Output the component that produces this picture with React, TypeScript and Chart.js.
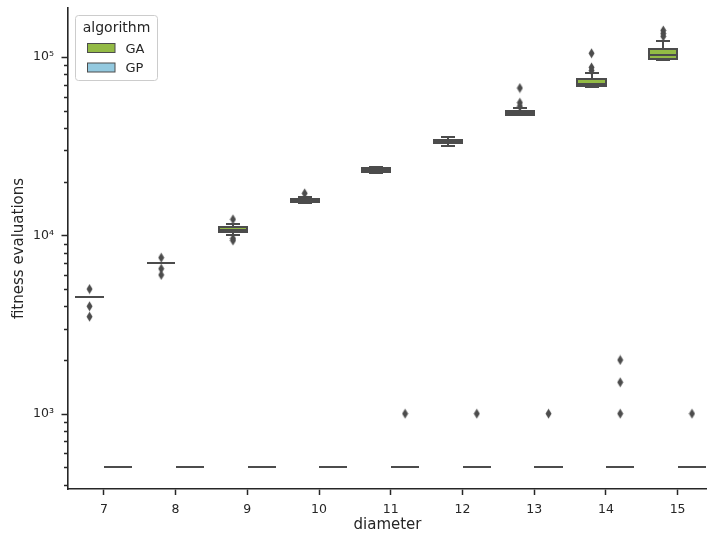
import React, { useEffect, useRef } from 'react';
import { Chart, registerables } from 'chart.js';

Chart.register(...registerables);

// ---------- data ----------
const diameters = [7, 8, 9, 10, 11, 12, 13, 14, 15];
const algorithms = ['GA', 'GP'];

// GA box statistics (fitness evaluations)
const gaLow = [4500, 7000, 10100, 15100, 22500, 31600, 47300, 67700, 96500];
const gaQ1 = [4500, 7000, 10400, 15400, 22800, 32900, 47300, 68900, 97200];
const gaMedian = [4500, 7000, 10750, 15750, 23300, 33500, 48300, 70600, 103000];
const gaQ3 = [4500, 7000, 11200, 16050, 23900, 34300, 50000, 75000, 111000];
const gaHigh = [4500, 7000, 11600, 16500, 24300, 35800, 51500, 81000, 123600];
const gaOutliers = [
  [5000, 4000, 3500],
  [7500, 6500, 6000],
  [12300, 9600, 9350],
  [17200],
  [],
  [],
  [67000, 55500, 53000],
  [105000, 87500, 84000],
  [141000, 135500, 130500],
];

// GP box statistics
const gpLow = [500, 500, 500, 500, 500, 500, 500, 500, 500];
const gpQ1 = [500, 500, 500, 500, 500, 500, 500, 500, 500];
const gpMedian = [500, 500, 500, 500, 500, 500, 500, 500, 500];
const gpQ3 = [500, 500, 500, 500, 500, 500, 500, 500, 500];
const gpHigh = [500, 500, 500, 500, 500, 500, 500, 500, 500];
const gpOutliers = [[], [], [], [], [1000], [1000], [1000], [1000, 1500, 2000], [1000]];

// y-axis ticks
const yMajorTicks = [1000, 10000, 100000];
const yMajorLabels = ['10³', '10⁴', '10⁵'];
const yMinorTicks = [
  400, 500, 600, 700, 800, 900,
  2000, 3000, 4000, 5000, 6000, 7000, 8000, 9000,
  20000, 30000, 40000, 50000, 60000, 70000, 80000, 90000,
];
const xTitle = 'diameter';
const yTitle = 'fitness evaluations';
const legendTitle = 'algorithm';

// ---------- styles ----------
const GA_FILL = '#93BA45';
const GP_FILL = '#93C9DF';
const LINE = '#4c4c4c';
const AXIS = '#262626';
const FONT = "'DejaVu Sans', sans-serif";
const BOX_W = 0.392;
const HUE_OFF = 0.2;

function makeDiamond(): HTMLCanvasElement {
  const c = document.createElement('canvas');
  c.width = 7;
  c.height = 11;
  const g = c.getContext('2d')!;
  g.fillStyle = LINE;
  g.beginPath();
  g.moveTo(3.5, 0.5);
  g.lineTo(6.5, 5.5);
  g.lineTo(3.5, 10.5);
  g.lineTo(0.5, 5.5);
  g.closePath();
  g.fill();
  return c;
}

const groups = [
  { name: algorithms[0], off: -HUE_OFF, fill: GA_FILL, lo: gaLow, q1: gaQ1, med: gaMedian, q3: gaQ3, hi: gaHigh },
  { name: algorithms[1], off: HUE_OFF, fill: GP_FILL, lo: gpLow, q1: gpQ1, med: gpMedian, q3: gpQ3, hi: gpHigh },
];

const boxPlugin = {
  id: 'boxes',
  beforeDatasetsDraw(chart: any) {
    const { ctx, chartArea, scales } = chart;
    const x = scales.x;
    const y = scales.y;
    const R = Math.round;
    ctx.save();
    ctx.beginPath();
    ctx.rect(chartArea.left, chartArea.top, chartArea.right - chartArea.left, chartArea.bottom - chartArea.top);
    ctx.clip();
    ctx.lineWidth = 2;
    ctx.strokeStyle = LINE;
    ctx.lineCap = 'butt';
    const line = (x1: number, y1: number, x2: number, y2: number) => {
      ctx.beginPath();
      ctx.moveTo(x1, y1);
      ctx.lineTo(x2, y2);
      ctx.stroke();
    };
    for (const g of groups) {
      diameters.forEach((d, i) => {
        const cx = d + g.off;
        const xl = R(x.getPixelForValue(cx - BOX_W / 2));
        const xr = R(x.getPixelForValue(cx + BOX_W / 2));
        const xc = R(x.getPixelForValue(cx));
        const cl = R(x.getPixelForValue(cx - BOX_W / 4));
        const cr = R(x.getPixelForValue(cx + BOX_W / 4));
        const yLo = R(y.getPixelForValue(g.lo[i]));
        const yQ1 = R(y.getPixelForValue(g.q1[i]));
        const yMed = R(y.getPixelForValue(g.med[i]));
        const yQ3 = R(y.getPixelForValue(g.q3[i]));
        const yHi = R(y.getPixelForValue(g.hi[i]));
        if (yQ1 > yQ3) {
          ctx.fillStyle = g.fill;
          ctx.fillRect(xl, yQ3, xr - xl, yQ1 - yQ3);
          ctx.strokeRect(xl, yQ3, xr - xl, yQ1 - yQ3);
        }
        if (yLo !== yQ1) line(xc, yQ1, xc, yLo);
        if (yHi !== yQ3) line(xc, yQ3, xc, yHi);
        line(cl, yLo, cr, yLo);
        line(cl, yHi, cr, yHi);
        line(xl, yMed, xr, yMed);
      });
    }
    ctx.restore();
  },
  afterDraw(chart: any) {
    const { ctx, chartArea, scales } = chart;
    const y = scales.y;
    ctx.save();
    // y tick marks (major longer than minor)
    ctx.strokeStyle = AXIS;
    ctx.lineWidth = 1.5;
    const left = chartArea.left;
    for (const v of yMajorTicks) {
      const py = Math.round(y.getPixelForValue(v)) + 0.5;
      ctx.beginPath();
      ctx.moveTo(left - 6.5, py);
      ctx.lineTo(left, py);
      ctx.stroke();
    }
    for (const v of yMinorTicks) {
      const py = Math.round(y.getPixelForValue(v)) + 0.5;
      ctx.beginPath();
      ctx.moveTo(left - 4, py);
      ctx.lineTo(left, py);
      ctx.stroke();
    }
    // legend
    const lx = 75.5, ly = 15.5, lw = 82, lh = 65, r = 3;
    ctx.beginPath();
    ctx.moveTo(lx + r, ly);
    ctx.lineTo(lx + lw - r, ly);
    ctx.quadraticCurveTo(lx + lw, ly, lx + lw, ly + r);
    ctx.lineTo(lx + lw, ly + lh - r);
    ctx.quadraticCurveTo(lx + lw, ly + lh, lx + lw - r, ly + lh);
    ctx.lineTo(lx + r, ly + lh);
    ctx.quadraticCurveTo(lx, ly + lh, lx, ly + lh - r);
    ctx.lineTo(lx, ly + r);
    ctx.quadraticCurveTo(lx, ly, lx + r, ly);
    ctx.closePath();
    ctx.fillStyle = 'rgba(255,255,255,0.8)';
    ctx.fill();
    ctx.strokeStyle = '#cccccc';
    ctx.lineWidth = 1;
    ctx.stroke();
    ctx.fillStyle = AXIS;
    ctx.font = `14px ${FONT}`;
    ctx.textAlign = 'center';
    ctx.textBaseline = 'alphabetic';
    ctx.fillText(legendTitle, lx + lw / 2, 32);
    ctx.font = `13px ${FONT}`;
    ctx.textAlign = 'left';
    groups.forEach((g, k) => {
      const top = 43.5 + k * 19.5;
      ctx.fillStyle = g.fill;
      ctx.fillRect(87.5, top, 27.5, 9);
      ctx.strokeStyle = LINE;
      ctx.lineWidth = 1;
      ctx.strokeRect(87.5, top, 27.5, 9);
      ctx.fillStyle = AXIS;
      ctx.fillText(g.name, 125.5, top + 9.2);
    });
    ctx.restore();
  },
};

export default function App() {
  const ref = useRef<HTMLCanvasElement | null>(null);
  useEffect(() => {
    if (!ref.current) return;
    const diamond = makeDiamond();
    const gaPts = diameters.flatMap((d, i) => gaOutliers[i].map((v) => ({ x: d - HUE_OFF, y: v })));
    const gpPts = diameters.flatMap((d, i) => gpOutliers[i].map((v) => ({ x: d + HUE_OFF, y: v })));
    const chart = new Chart(ref.current, {
      type: 'scatter',
      data: {
        datasets: [
          { label: algorithms[0], data: gaPts, pointStyle: diamond as any, backgroundColor: LINE, borderColor: LINE },
          { label: algorithms[1], data: gpPts, pointStyle: diamond as any, backgroundColor: LINE, borderColor: LINE },
        ],
      },
      options: {
        animation: false,
        responsive: false,
        devicePixelRatio: 1,
        layout: { autoPadding: false, padding: { top: 8, right: 0, left: 0, bottom: 0 } },
        plugins: { legend: { display: false }, tooltip: { enabled: false } },
        scales: {
          x: {
            type: 'linear',
            min: 6.5,
            max: 15.41,
            afterFit: (s: any) => {
              s.height = 45;
              s.paddingLeft = 0;
              s.paddingRight = 0;
            },
            afterBuildTicks: (s: any) => { s.ticks = diameters.map((v) => ({ value: v })); },
            grid: { display: true, drawOnChartArea: false, drawTicks: true, tickLength: 6, tickColor: AXIS, tickWidth: 1.5, color: AXIS },
            border: { display: true, color: AXIS, width: 1.6 },
            ticks: { color: AXIS, font: { family: FONT, size: 12.5 }, padding: 7, autoSkip: false, maxRotation: 0, callback: (v: any) => String(v) },
            title: { display: true, text: xTitle, color: AXIS, font: { family: FONT, size: 15 }, padding: { top: 0, bottom: 0 } },
          },
          y: {
            type: 'logarithmic',
            min: 378,
            max: 188400,
            afterFit: (s: any) => {
              s.width = 68;
              s.paddingTop = 0;
              s.paddingBottom = 0;
            },
            afterBuildTicks: (s: any) => {
              s.ticks = [...yMinorTicks, ...yMajorTicks].sort((a, b) => a - b).map((v) => ({ value: v }));
            },
            grid: { display: false, drawTicks: false },
            border: { display: true, color: AXIS, width: 1.6 },
            ticks: {
              color: AXIS,
              font: { family: FONT, size: 12.5 },
              padding: 14,
              autoSkip: false,
              callback: (v: any) => {
                const k = yMajorTicks.indexOf(Number(v));
                return k >= 0 ? yMajorLabels[k] : '';
              },
            },
            title: { display: true, text: yTitle, color: AXIS, font: { family: FONT, size: 15 }, padding: { top: 10, bottom: 0 } },
          },
        },
      },
      plugins: [boxPlugin],
    });
    return () => chart.destroy();
  }, []);
  return (
    <div style={{ position: 'absolute', left: 0, top: 0, width: 707, height: 534, background: '#fff' }}>
      <canvas ref={ref} width={707} height={534} />
    </div>
  );
}
